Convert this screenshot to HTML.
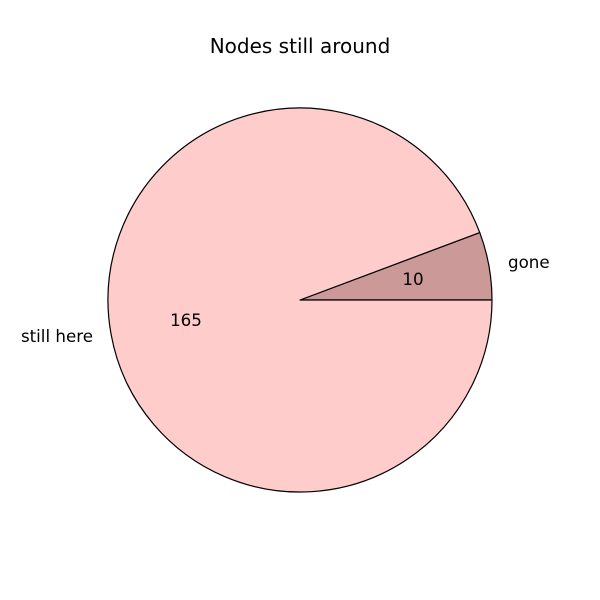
<!DOCTYPE html>
<html><head><meta charset="utf-8"><style>
html,body{margin:0;padding:0;background:#fff;}
svg{display:block;font-family:"DejaVu Sans","Liberation Sans",sans-serif;}
</style></head><body>
<svg width="600" height="600" viewBox="0 0 600 600" xmlns="http://www.w3.org/2000/svg">
<rect width="600" height="600" fill="#fff"/>
<text x="300" y="53" font-size="20" text-anchor="middle" fill="#000">Nodes still around</text>
<path d="M300,300 L492,300 A192,192 0 0,0 479.75,232.54 Z" fill="#cc9999" stroke="#000" stroke-width="1.2" stroke-linejoin="round"/>
<path d="M300,300 L479.75,232.54 A192,192 0 1,0 492,300 Z" fill="#ffcccc" stroke="#000" stroke-width="1.2" stroke-linejoin="round"/>
<text x="508" y="268" font-size="16.7" fill="#000">gone</text>
<text x="93" y="342" font-size="16.7" text-anchor="end" fill="#000">still here</text>
<text x="413" y="285" font-size="16.7" text-anchor="middle" fill="#000">10</text>
<text x="186" y="326" font-size="16.7" text-anchor="middle" fill="#000">165</text>
</svg>
</body></html>
